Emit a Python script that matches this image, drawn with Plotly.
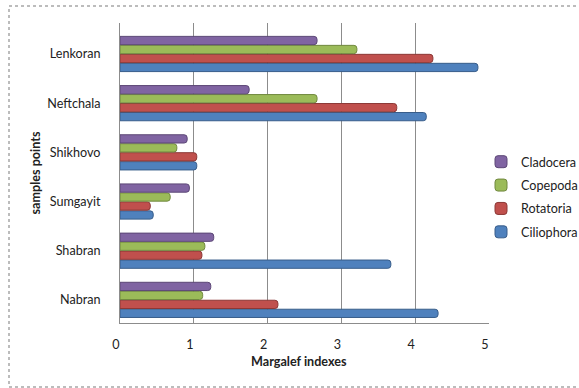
import plotly.graph_objects as go

# Sampling points, listed bottom to top
stations = ["Nabran", "Shabran", "Sumgayit", "Shikhovo", "Neftchala", "Lenkoran"]

# Margalef index per taxonomic group
ciliophora = [4.31, 3.67, 0.45, 1.04, 4.15, 4.85]
rotatoria = [2.14, 1.11, 0.41, 1.04, 3.75, 4.24]
copepoda = [1.12, 1.15, 0.68, 0.77, 2.67, 3.21]
cladocera = [1.23, 1.27, 0.94, 0.91, 1.75, 2.67]

x_ticks = [0, 1, 2, 3, 4, 5]

series = [
    ("Ciliophora", ciliophora, "#4F81BD", "#385D8A"),
    ("Rotatoria", rotatoria, "#C0504D", "#8C3836"),
    ("Copepoda", copepoda, "#9BBB59", "#71893F"),
    ("Cladocera", cladocera, "#8064A2", "#5C4776"),
]

FONT = "Lato, 'Open Sans', sans-serif"
FS = 12.6

fig = go.Figure()
for i, (name, vals, col, edge) in enumerate(series):
    fig.add_trace(go.Bar(
        y=stations, x=vals, name=name, orientation="h",
        marker=dict(color=col, line=dict(color=edge, width=1), cornerradius=3),
        legendgroup=name, legendrank=len(series) - i,
    ))

ML, MR, MT, MB = 120, 90, 23, 65
W, H = 579, 388
pw, ph = W - ML - MR, H - MT - MB


def px_x(p):
    return (p - ML) / pw


def px_y(p):
    return (H - MB - p) / ph


fig.update_layout(
    width=W, height=H,
    margin=dict(l=ML, r=MR, t=MT, b=MB, autoexpand=False),
    paper_bgcolor="white", plot_bgcolor="white",
    font=dict(family=FONT, size=FS, color="#222"),
    barmode="group", bargap=0.27, bargroupgap=0.08,
    showlegend=True,
    legend=dict(
        traceorder="grouped", tracegroupgap=4,
        x=px_x(481), y=px_y(147), xanchor="left", yanchor="top",
        font=dict(size=FS, color="#222"), bgcolor="rgba(0,0,0,0)",
        itemwidth=30,
    ),
    xaxis=dict(
        range=[0, 5], tickvals=x_ticks, showgrid=True, gridcolor="#8C8C8C",
        gridwidth=1, zeroline=False, showline=True, linecolor="#8C8C8C",
        ticks="", ticklabelstandoff=10, ticklabelshift=-4,
        tickfont=dict(size=FS, color="#222"), fixedrange=True,
    ),
    yaxis=dict(
        range=[-0.47, 5.63], showgrid=False, zeroline=False, showline=True,
        linecolor="#8C8C8C", ticks="", ticklabelstandoff=16,
        tickfont=dict(size=FS, color="#222"), fixedrange=True,
        title=dict(text="<b>samples points</b>", standoff=3,
                   font=dict(size=FS, color="#222")),
    ),
    annotations=[
        dict(text="<b>Margalef indexes</b>", xref="paper", yref="paper",
             x=px_x(299), y=px_y(361), xanchor="center", yanchor="middle",
             showarrow=False, font=dict(size=FS, color="#222")),
    ],
    shapes=[
        dict(type="rect", xref="paper", yref="paper",
             x0=px_x(9), x1=px_x(585), y0=px_y(387), y1=px_y(6),
             line=dict(color="#A6A6A6", width=1.5, dash="dot"), layer="below"),
    ],
)

fig.write_html("out.html")
